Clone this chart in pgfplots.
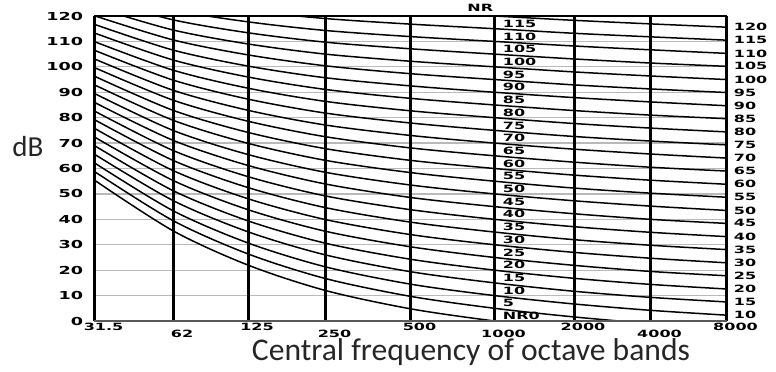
\documentclass[border=0pt]{standalone}
\usepackage{fontspec}
\setmainfont{Carlito}
\newfontfamily\tickfont[FakeStretch=1.6]{DejaVu Sans}
\usepackage{pgfplots}
\pgfplotsset{compat=1.18}
\usepackage{pgfplotstable}

% rows: octave bands (pos = horizontal position of the band line), columns: NR curves
\pgfplotstableread{
pos   n0    n5    n10   n15   n20   n25   n30   n35   n40   n45   n50   n55   n60   n65   n70   n75   n80   n85   n90   n95   n100  n105  n110  n115  n120
0     55.4  58.8  62.2  65.6  69.0  72.4  75.8  79.2  82.6  86.0  89.5  92.9  96.3  99.7  103.1 106.5 109.9 113.3 116.7 120.1 123.5 126.9 130.3 133.7 137.1
78.5  35.5  39.5  43.4  47.4  51.3  55.3  59.2  63.2  67.1  71.1  75.0  79.0  82.9  86.9  90.8  94.8  98.7  102.7 106.6 110.6 114.5 118.5 122.4 126.4 130.3
153.5 22.0  26.4  30.7  35.1  39.4  43.8  48.1  52.5  56.8  61.2  65.5  69.9  74.2  78.6  82.9  87.3  91.6  96.0  100.3 104.7 109.0 113.4 117.7 122.1 126.4
231   12.0  16.7  21.3  26.0  30.6  35.3  39.9  44.6  49.2  53.9  58.5  63.2  67.8  72.5  77.1  81.8  86.4  91.1  95.7  100.4 105.0 109.7 114.3 119.0 123.6
316   4.8   9.7   14.5  19.4  24.3  29.2  34.0  38.9  43.8  48.6  53.5  58.4  63.2  68.1  73.0  77.9  82.7  87.6  92.5  97.3  102.2 107.1 111.9 116.8 121.7
400   0     5     10    15    20    25    30    35    40    45    50    55    60    65    70    75    80    85    90    95    100   105   110   115   120
479.5 -3.5  1.6   6.7   11.7  16.8  21.9  27.0  32.0  37.1  42.2  47.3  52.3  57.4  62.5  67.6  72.6  77.7  82.8  87.9  92.9  98.0  103.1 108.2 113.2 118.3
556   -6.1  -1.0  4.2   9.3   14.4  19.5  24.7  29.8  34.9  40.0  45.2  50.3  55.4  60.5  65.7  70.8  75.9  81.0  86.2  91.3  96.4  101.5 106.7 111.8 116.9
632   -8.0  -2.9  2.3   7.5   12.6  17.8  22.9  28.1  33.2  38.4  43.5  48.7  53.8  59.0  64.1  69.3  74.4  79.6  84.7  89.9  95.0  100.2 105.3 110.5 115.6
}\nrdata

\newcommand\lblfont{\tickfont\bfseries\fontsize{5}{6}\selectfont}
\newcommand\rlab[2]{\node[anchor=west, inner sep=0pt, font=\lblfont, xshift=3.5pt] at (axis cs:632,#2) {#1};}

\begin{document}
\begin{tikzpicture}
\path[use as bounding box] (-47.25pt,-25pt) rectangle (340.75pt,160.5pt);
\begin{axis}[
  at={(0,0)}, anchor=south west,
  scale only axis, width=316pt, height=152.5pt,
  xmin=0, xmax=632, ymin=0, ymax=120,
  axis line style={draw=none},
  major tick length=0pt,
  clip mode=individual,
  xtick={0,153.5,316,479.5,632},
  xticklabels={31.5,125,500,2000,8000},
  extra x ticks={78.5,231,400,556},
  extra x tick labels={62,250,1000,4000},
  extra x tick style={xticklabel style={yshift=-3.5pt}},
  xticklabel style={font=\lblfont, anchor=north, inner sep=0pt, xshift=4.5pt, yshift=-0.75pt},
  ytick={0,10,...,120},
  yticklabels={0,10,20,30,40,50,60,70,80,90,100,110,120},
  yticklabel style={font=\tickfont\bfseries\fontsize{5.5}{6}\selectfont, anchor=east, inner sep=0pt, xshift=-5.5pt},
]
\pgfplotsinvokeforeach{10,20,...,110}{
  \draw[gray!55, line width=0.6pt] (axis cs:0,#1) -- (axis cs:632,#1);
}
\pgfplotsinvokeforeach{0,5,...,120}{
  \addplot[black, line width=0.75pt, smooth, no marks] table[x=pos, y=n#1] {\nrdata};
}
\pgfplotsinvokeforeach{0,78.5,153.5,231,316,400,479.5,556,632}{
  \draw[black, line width=1.5pt] (axis cs:#1,0) -- (axis cs:#1,120);
}
\draw[black, line width=0.8pt] (axis cs:0,120) -- (axis cs:632,120);
\draw[black!65, line width=0.9pt] (axis cs:0,0) -- (axis cs:632,0);
\pgfplotsinvokeforeach{5,10,...,115}{
  \node[anchor=south west, inner sep=0pt, font=\lblfont, xshift=4pt, yshift=0.4pt] at (axis cs:400,#1) {#1};
}
\node[anchor=south west, inner sep=0pt, font=\lblfont, xshift=4pt, yshift=0.4pt] at (axis cs:400,0) {NR0};
\node[anchor=south east, inner sep=0pt, font=\lblfont, xshift=-0.5pt, yshift=2pt] at (axis cs:400,120) {NR};
\rlab{10}{2.3}\rlab{15}{7.5}\rlab{20}{12.6}\rlab{25}{17.8}\rlab{30}{22.9}\rlab{35}{28.1}
\rlab{40}{33.2}\rlab{45}{38.4}\rlab{50}{43.5}\rlab{55}{48.7}\rlab{60}{53.8}\rlab{65}{59.0}
\rlab{70}{64.1}\rlab{75}{69.3}\rlab{80}{74.4}\rlab{85}{79.6}\rlab{90}{84.7}\rlab{95}{89.9}
\rlab{100}{95.0}\rlab{105}{100.2}\rlab{110}{105.3}\rlab{115}{110.5}\rlab{120}{115.6}
\end{axis}
\node[font=\fontsize{14.5}{16}\selectfont, text=black!85] at (-33.25pt,87pt) {dB};
\node[font=\fontsize{15.8}{18}\selectfont, text=black!85] at (188.25pt,-15.5pt) {Central frequency of octave bands};
\end{tikzpicture}
\end{document}
